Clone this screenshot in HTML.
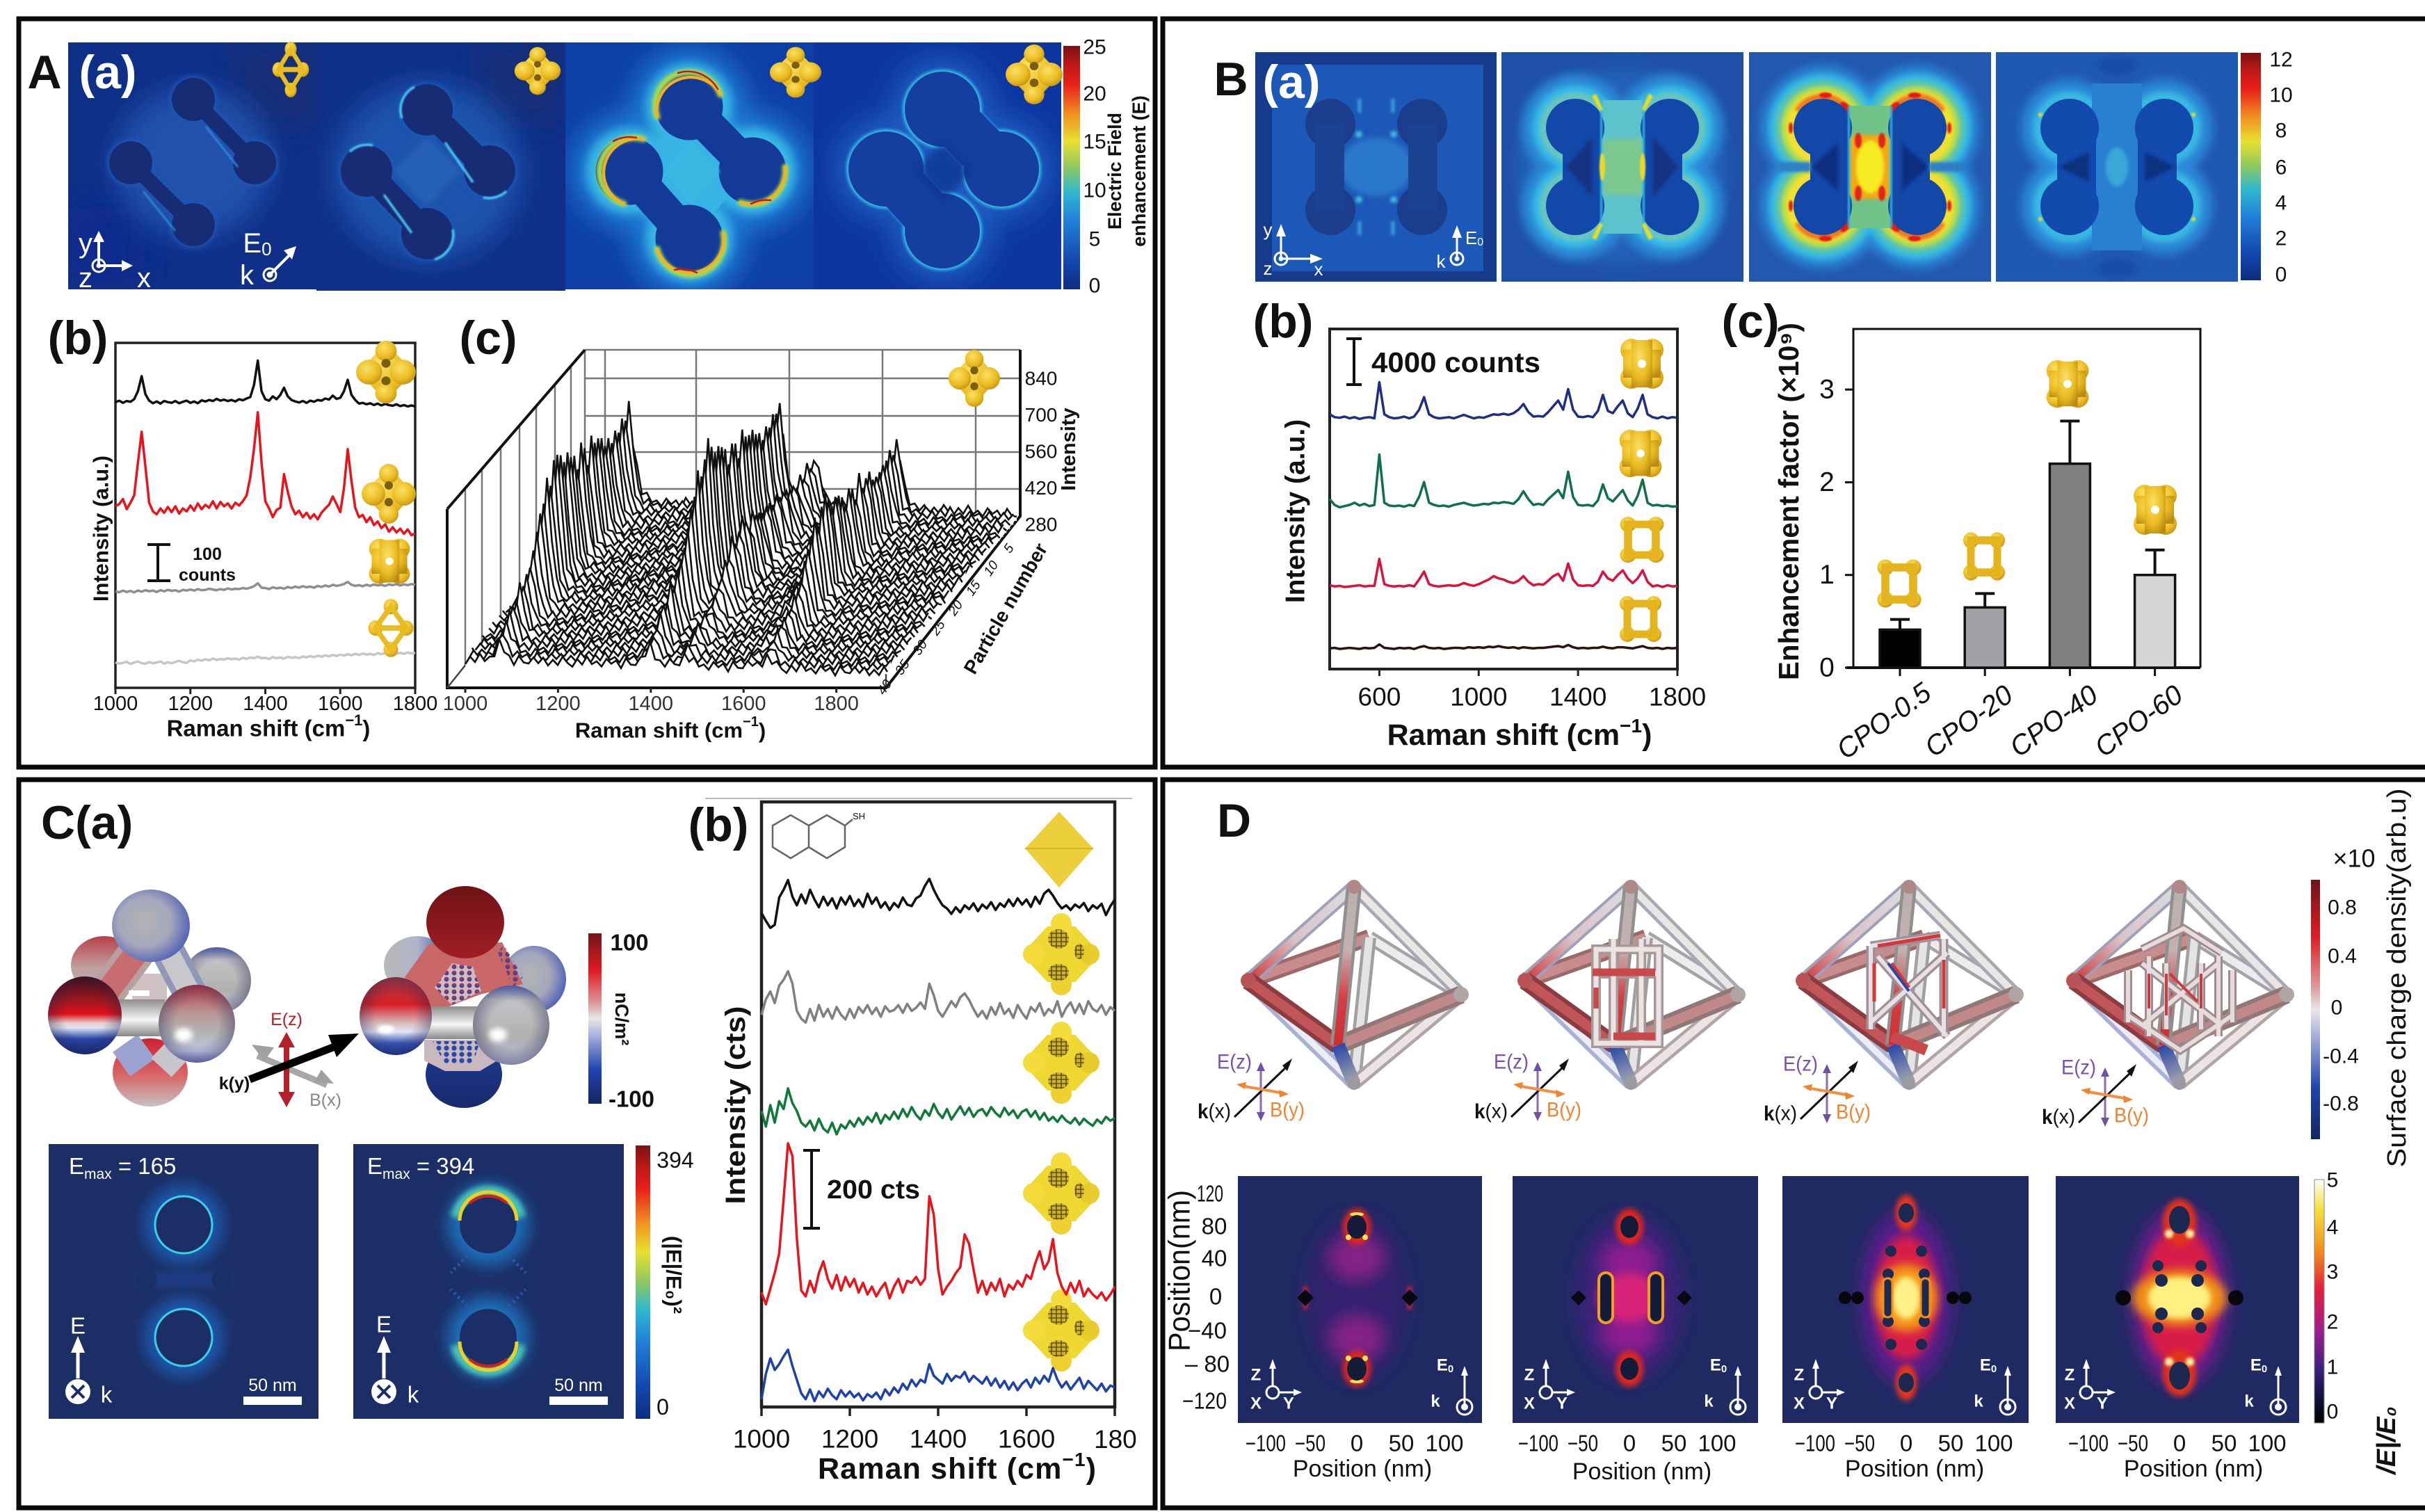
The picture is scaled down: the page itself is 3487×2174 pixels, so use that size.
<!DOCTYPE html>
<html lang="en">
<head>
<meta charset="utf-8">
<title>Raman and field enhancement of plasmonic nanoframes</title>
<style>
html,body{margin:0;padding:0;background:#fff;}
svg{display:block;}
text{font-family:"Liberation Sans",sans-serif;fill:#111;}
.c{text-anchor:middle;dominant-baseline:central;}
.big{font-size:68px;}
.lab{font-size:68px;font-weight:bold;}
.tick{font-size:30px;}
.title{font-size:34px;}
.b{font-weight:bold;}
.w{fill:#fff;}
</style>
</head>
<body>
<svg id="figure" xmlns="http://www.w3.org/2000/svg" width="3487" height="2174" viewBox="0 0 3487 2174">
<defs>
<filter id="b1" x="-50%" y="-50%" width="200%" height="200%"><feGaussianBlur stdDeviation="1"/></filter>
<filter id="b2" x="-50%" y="-50%" width="200%" height="200%"><feGaussianBlur stdDeviation="2"/></filter>
<filter id="b4" x="-50%" y="-50%" width="200%" height="200%"><feGaussianBlur stdDeviation="4"/></filter>
<filter id="b7" x="-50%" y="-50%" width="200%" height="200%"><feGaussianBlur stdDeviation="7"/></filter>
<filter id="b12" x="-50%" y="-50%" width="200%" height="200%"><feGaussianBlur stdDeviation="12"/></filter>
<filter id="b20" x="-50%" y="-50%" width="200%" height="200%"><feGaussianBlur stdDeviation="20"/></filter>
<linearGradient id="jet" x1="0" y1="0" x2="0" y2="1">
<stop offset="0" stop-color="#7a1212"/><stop offset=".08" stop-color="#c01818"/><stop offset=".16" stop-color="#ea2018"/><stop offset=".28" stop-color="#f09020"/><stop offset=".39" stop-color="#e8e030"/><stop offset=".5" stop-color="#8cc860"/><stop offset=".6" stop-color="#30b8d0"/><stop offset=".72" stop-color="#2080d8"/><stop offset=".88" stop-color="#1448b0"/><stop offset="1" stop-color="#0e2c80"/>
</linearGradient>
<linearGradient id="chg" x1="0" y1="0" x2="0" y2="1">
<stop offset="0" stop-color="#6f1418"/><stop offset=".22" stop-color="#e01c24"/><stop offset=".42" stop-color="#dba0a0"/><stop offset=".5" stop-color="#e8e8e8"/><stop offset=".6" stop-color="#a8b0dc"/><stop offset=".8" stop-color="#2044b0"/><stop offset="1" stop-color="#14245f"/>
</linearGradient>
<linearGradient id="hot" x1="0" y1="0" x2="0" y2="1">
<stop offset="0" stop-color="#ffffff"/><stop offset=".12" stop-color="#f5e040"/><stop offset=".3" stop-color="#f28a18"/><stop offset=".45" stop-color="#e0203a"/><stop offset=".62" stop-color="#a01d90"/><stop offset=".78" stop-color="#3a2080"/><stop offset=".9" stop-color="#10103a"/><stop offset="1" stop-color="#000"/>
</linearGradient>
<radialGradient id="gold" cx=".4" cy=".35" r=".75">
<stop offset="0" stop-color="#fbe064"/><stop offset=".6" stop-color="#eabb22"/><stop offset="1" stop-color="#b88a10"/>
</radialGradient>
<radialGradient id="shade" cx=".5" cy=".5" r=".5"><stop offset=".55" stop-color="#202050" stop-opacity="0"/><stop offset="1" stop-color="#202050" stop-opacity=".38"/></radialGradient>
<radialGradient id="sph1" cx=".42" cy=".45" r=".62"><stop offset="0" stop-color="#b4b4b4"/><stop offset=".55" stop-color="#a4a6bc"/><stop offset="1" stop-color="#4a5cb4"/></radialGradient>
<linearGradient id="sph2" x1="0" y1="0" x2="0" y2="1"><stop offset="0" stop-color="#4c0c10"/><stop offset=".32" stop-color="#a01820"/><stop offset=".48" stop-color="#e01018"/><stop offset=".6" stop-color="#e8d0d0"/><stop offset=".66" stop-color="#dfe2f2"/><stop offset=".8" stop-color="#2a48ac"/><stop offset="1" stop-color="#1a2c7c"/></linearGradient>
<linearGradient id="sph2b" x1="0" y1="0" x2="0" y2="1"><stop offset="0" stop-color="#b03a40"/><stop offset=".35" stop-color="#d82028"/><stop offset=".6" stop-color="#d8c0c0"/><stop offset=".7" stop-color="#e4e6f4"/><stop offset=".85" stop-color="#3a58b8"/><stop offset="1" stop-color="#24389a"/></linearGradient>
<linearGradient id="sph3" x1="0" y1="0" x2="0" y2="1"><stop offset="0" stop-color="#c03c44"/><stop offset=".35" stop-color="#b89494"/><stop offset=".62" stop-color="#b4b4b4"/><stop offset=".85" stop-color="#c0c4e0"/><stop offset="1" stop-color="#7a88c8"/></linearGradient>
<linearGradient id="sph4" x1="0" y1="0" x2="0" y2="1"><stop offset="0" stop-color="#d02030"/><stop offset=".55" stop-color="#d86868"/><stop offset="1" stop-color="#c8c0c0"/></linearGradient>
<linearGradient id="sph5" x1="0" y1="0" x2="0" y2="1"><stop offset="0" stop-color="#6e1216"/><stop offset="1" stop-color="#a01e22"/></linearGradient>
<linearGradient id="sph6" x1="0" y1="0" x2="0" y2="1"><stop offset="0" stop-color="#1c3a94"/><stop offset="1" stop-color="#1a2a6c"/></linearGradient>
<linearGradient id="sph7" x1="0" y1="0" x2="0" y2="1"><stop offset="0" stop-color="#6a7cc8"/><stop offset=".18" stop-color="#c4c4c8"/><stop offset=".65" stop-color="#b0b0b0"/><stop offset="1" stop-color="#bcc0da"/></linearGradient>
<linearGradient id="sph8" x1="0" y1="0" x2="0" y2="1"><stop offset="0" stop-color="#b84048"/><stop offset=".55" stop-color="#c0a0a0"/><stop offset="1" stop-color="#b8b8b8"/></linearGradient>
<linearGradient id="sph9" x1="1" y1="0" x2="0" y2="0"><stop offset="0" stop-color="#3050b0"/><stop offset=".5" stop-color="#b0b4c8"/><stop offset="1" stop-color="#b8b8b8"/></linearGradient>
<linearGradient id="tube" x1="0" y1="0" x2="0" y2="1"><stop offset="0" stop-color="#8c8c8c"/><stop offset=".55" stop-color="#f6f6f6"/><stop offset="1" stop-color="#888"/></linearGradient>
<linearGradient id="tf" gradientUnits="userSpaceOnUse" x1="1947" y1="1275" x2="1924" y2="1503"><stop offset="0" stop-color="#b8b0b0"/><stop offset=".4" stop-color="#c4b0b0"/><stop offset=".7" stop-color="#d04046"/><stop offset="1" stop-color="#cf2e30"/></linearGradient>
<linearGradient id="tl" gradientUnits="userSpaceOnUse" x1="1947" y1="1275" x2="1795" y2="1410"><stop offset="0" stop-color="#dcdce0"/><stop offset=".55" stop-color="#d8c4c8"/><stop offset="1" stop-color="#cc3a40"/></linearGradient>
<linearGradient id="bf" gradientUnits="userSpaceOnUse" x1="1947" y1="1558" x2="1924" y2="1503"><stop offset="0" stop-color="#a8a8ac"/><stop offset="1" stop-color="#2a48a8"/></linearGradient>
<pattern id="dots" width="11" height="9" patternUnits="userSpaceOnUse"><circle cx="4" cy="4" r="3.4" fill="#2a48a8"/><circle cx="4" cy="3" r="1.8" fill="#d02a30"/></pattern>
<pattern id="dots2" width="11" height="9" patternUnits="userSpaceOnUse"><circle cx="4" cy="4" r="3.6" fill="#2a48a8"/></pattern>
<pattern id="holes" width="7" height="6" patternUnits="userSpaceOnUse"><path d="M0 0h7v6H0z" fill="#cfb026" stroke="#4a4214" stroke-width="1.3"/></pattern>

<g id="icon-solid">
<path d="M0-40L36 0L0 40L-36 0Z" fill="url(#gold)"/>
<circle cx="0" cy="-29" r="14" fill="url(#gold)"/><circle cx="0" cy="29" r="14" fill="url(#gold)"/><circle cx="-22" cy="0" r="17" fill="url(#gold)"/><circle cx="22" cy="0" r="17" fill="url(#gold)"/>
<ellipse cx="0" cy="-12" rx="6" ry="6" fill="#7c5e10"/><ellipse cx="0" cy="12" rx="6" ry="6" fill="#7c5e10"/>
</g>
<g id="icon-open">
<circle cx="0" cy="-28" r="10" fill="url(#gold)"/><circle cx="0" cy="28" r="10" fill="url(#gold)"/><circle cx="-21" cy="0" r="10" fill="url(#gold)"/><circle cx="21" cy="0" r="10" fill="url(#gold)"/><path d="M0-28L-21 0L0 28L21 0Z M-21 0H21" fill="none" stroke="#e8bd24" stroke-width="7"/>
</g>
<g id="icon-cross">
<circle cx="-15" cy="-20" r="16" fill="url(#gold)"/><circle cx="15" cy="-20" r="16" fill="url(#gold)"/><circle cx="-15" cy="20" r="16" fill="url(#gold)"/><circle cx="15" cy="20" r="16" fill="url(#gold)"/><rect x="-27" y="-20" width="54" height="40" fill="url(#gold)"/><rect x="-15" y="-34" width="30" height="68" fill="url(#gold)"/><circle cx="0" cy="0" r="6" fill="#fff"/>
</g>
<g id="icon-frame">
<circle cx="-19" cy="-22" r="11" fill="url(#gold)"/><circle cx="19" cy="-22" r="11" fill="url(#gold)"/><circle cx="-19" cy="22" r="11" fill="url(#gold)"/><circle cx="19" cy="22" r="11" fill="url(#gold)"/><rect x="-19" y="-22" width="38" height="44" fill="none" stroke="#e4b41e" stroke-width="11"/>
</g>
<g id="icon-yellow">
<path d="M0-56L52 0L0 56L-52 0Z" fill="#f0d832"/><path d="M-20-40H20L46-12V12L20 40H-20L-46 12V-12Z" fill="#f0d832"/><circle cx="0" cy="-44" r="15" fill="#f3dc3c"/><circle cx="0" cy="44" r="15" fill="#eed030"/><circle cx="-40" cy="0" r="15" fill="#f3dc3c"/><circle cx="40" cy="0" r="15" fill="#e8cc2c"/>
<ellipse cx="-4" cy="-22" rx="15" ry="14" fill="url(#holes)"/><ellipse cx="-4" cy="26" rx="15" ry="12" fill="url(#holes)"/><ellipse cx="26" cy="-4" rx="7" ry="11" fill="url(#holes)"/>
</g>

<g id="a1s"><circle cx="278" cy="143" r="31"/><circle cx="366" cy="234" r="31"/><circle cx="188" cy="234" r="31"/><circle cx="278" cy="323" r="31"/><line x1="278" y1="143" x2="366" y2="234" stroke="currentColor" stroke-width="22"/><line x1="188" y1="234" x2="278" y2="323" stroke="currentColor" stroke-width="22"/></g>
<g id="a2s"><circle cx="614" cy="158" r="37"/><circle cx="704" cy="246" r="37"/><circle cx="527" cy="246" r="37"/><circle cx="614" cy="336" r="37"/><line x1="614" y1="158" x2="704" y2="246" stroke="currentColor" stroke-width="36"/><line x1="527" y1="246" x2="614" y2="336" stroke="currentColor" stroke-width="36"/></g>
<g id="a3s"><circle cx="991" cy="153" r="48"/><circle cx="1082" cy="246" r="48"/><circle cx="905" cy="246" r="48"/><circle cx="991" cy="343" r="48"/><line x1="991" y1="153" x2="1082" y2="246" stroke="currentColor" stroke-width="50"/><line x1="905" y1="246" x2="991" y2="343" stroke="currentColor" stroke-width="50"/></g>
<g id="a4s"><circle cx="1355" cy="157" r="54"/><circle cx="1440" cy="243" r="54"/><circle cx="1274" cy="243" r="54"/><circle cx="1355" cy="332" r="54"/><line x1="1355" y1="157" x2="1440" y2="243" stroke="currentColor" stroke-width="72"/><line x1="1274" y1="243" x2="1355" y2="332" stroke="currentColor" stroke-width="72"/></g>

<g id="bs"><circle cx="-68" cy="-56" r="42"/><circle cx="-68" cy="56" r="42"/><circle cx="68" cy="-56" r="42"/><circle cx="68" cy="56" r="42"/><line x1="-58" y1="-56" x2="-58" y2="56" stroke="currentColor" stroke-width="56"/><line x1="58" y1="-56" x2="58" y2="56" stroke="currentColor" stroke-width="56"/></g>

<g id="octa">
<line x1="1795" y1="1410" x2="1969" y2="1348" stroke="#9a6a6a" stroke-width="24"/><line x1="1795" y1="1410" x2="1969" y2="1348" stroke="#c88c8c" stroke-width="14"/>
<line x1="2101" y1="1430" x2="1969" y2="1348" stroke="#a4a4a8" stroke-width="20"/><line x1="2101" y1="1430" x2="1969" y2="1348" stroke="#ececec" stroke-width="11"/>
<line x1="1969" y1="1348" x2="1947" y2="1558" stroke="#a0a0a0" stroke-width="20"/><line x1="1969" y1="1348" x2="1947" y2="1558" stroke="#e4e4e4" stroke-width="11"/>
<line x1="1795" y1="1410" x2="1947" y2="1558" stroke="#a8b0d4" stroke-width="20"/><line x1="1795" y1="1410" x2="1947" y2="1558" stroke="#ececf4" stroke-width="9"/>
<line x1="2101" y1="1430" x2="1947" y2="1558" stroke="#b0a4a4" stroke-width="20"/><line x1="2101" y1="1430" x2="1947" y2="1558" stroke="#ece4e4" stroke-width="11"/>
<line x1="1947" y1="1275" x2="1795" y2="1410" stroke="#a0a0b8" stroke-width="20"/><line x1="1947" y1="1275" x2="1795" y2="1410" stroke="url(#tl)" stroke-width="12"/>
<line x1="1947" y1="1275" x2="2101" y2="1430" stroke="#a8a8b4" stroke-width="19"/><line x1="1947" y1="1275" x2="2101" y2="1430" stroke="#eae6e6" stroke-width="10"/>
<line x1="1795" y1="1410" x2="1924" y2="1503" stroke="#8c3c40" stroke-width="26"/><line x1="1795" y1="1410" x2="1924" y2="1503" stroke="#c0565a" stroke-width="14"/>
<line x1="2101" y1="1430" x2="1924" y2="1503" stroke="#907878" stroke-width="26"/><line x1="2101" y1="1430" x2="1924" y2="1503" stroke="#c08888" stroke-width="14"/>
<line x1="1947" y1="1275" x2="1924" y2="1503" stroke="#909090" stroke-width="22"/><line x1="1947" y1="1275" x2="1924" y2="1503" stroke="url(#tf)" stroke-width="13"/>
<line x1="1924" y1="1503" x2="1947" y2="1558" stroke="url(#bf)" stroke-width="20"/>
<circle cx="1795" cy="1410" r="11" fill="#b85458"/><circle cx="2101" cy="1430" r="11" fill="#b0a4a4"/><circle cx="1947" cy="1275" r="10" fill="#b08888"/><circle cx="1947" cy="1558" r="9" fill="#9a9aa0"/>
</g>

<g id="emleg">
<line x1="1813" y1="1536" x2="1813" y2="1603" stroke="#8a6ab0" stroke-width="3"/><path d="M1807 1540L1813 1527L1819 1540Z M1807 1599L1813 1612L1819 1599Z" fill="#7050a0"/>
<line x1="1775" y1="1606" x2="1854" y2="1530" stroke="#111" stroke-width="3"/><path d="M1858 1522L1851 1540L1844 1532Z" fill="#111"/>
<line x1="1784" y1="1561" x2="1846" y2="1572" stroke="#f09040" stroke-width="4"/><path d="M1778 1559L1792 1556L1790 1566Z M1853 1573L1839 1567L1840 1578Z" fill="#ee8430"/>
<text class="c" x="1775" y="1527" font-size="30" style="fill:#7a50a8" textLength="50" lengthAdjust="spacingAndGlyphs">E(z)</text>
<text class="c" x="1746" y="1598" font-size="30" textLength="48" lengthAdjust="spacingAndGlyphs"><tspan font-weight="bold">k</tspan>(x)</text>
<text class="c" x="1851" y="1596" font-size="30" style="fill:#ee8430" textLength="50" lengthAdjust="spacingAndGlyphs">B(y)</text>
</g>
</defs>

<rect x="0" y="0" width="3487" height="2174" fill="#fff"/>

<!-- panel frames -->
<g fill="none" stroke="#0a0a0a" stroke-width="7">
<rect x="27" y="27" width="1634" height="1076"/>
<rect x="1672" y="27" width="1820" height="1076"/>
<rect x="27" y="1121" width="1634" height="1047"/>
<rect x="1672" y="1121" width="1820" height="1047"/>
</g>

<!-- A(a) field maps -->
<g>
<svg x="98" y="61" width="357" height="355" viewBox="98 61 357 355">
<rect x="98" y="61" width="357" height="355" fill="#0f2f88"/>
<rect x="340" y="61" width="115" height="120" fill="#182d78" filter="url(#b20)"/>
<rect x="98" y="300" width="110" height="116" fill="#0d2c8c" filter="url(#b20)"/>
<ellipse cx="277" cy="234" rx="112" ry="108" fill="#2052ac" opacity=".95" filter="url(#b20)"/>
<use href="#a1s" fill="#1a56b8" color="#1a56b8" stroke="#1a56b8" stroke-width="5" filter="url(#b4)"/>
<use href="#a1s" fill="#172c74" color="#172c74"/>
<g stroke="#2f8ee0" stroke-width="2.5" fill="none" filter="url(#b1)"><path d="M296 182L342 240"/><path d="M206 275L252 332"/></g>
</svg>
<svg x="455" y="61" width="358" height="357" viewBox="455 61 358 357">
<rect x="455" y="61" width="358" height="357" fill="#0f2f88"/>
<rect x="690" y="61" width="123" height="110" fill="#182d78" filter="url(#b20)"/>
<ellipse cx="615" cy="247" rx="135" ry="128" fill="#1f52ac" filter="url(#b20)"/>
<path d="M565 246L614 196L664 246L614 298Z" fill="#2860b4" filter="url(#b4)"/>
<use href="#a2s" fill="#1a56b8" color="#1a56b8" stroke="#1a56b8" stroke-width="5" filter="url(#b4)"/>
<use href="#a2s" fill="#172c74" color="#172c74"/>
<g fill="none" stroke="#48c8f4" stroke-width="3.5" filter="url(#b1)"><path d="M578 170A37 37 0 0 1 596 125"/><path d="M503 218A37 37 0 0 1 536 209"/><path d="M728 275A37 37 0 0 1 695 284"/><path d="M651 330A37 37 0 0 1 625 373"/><path d="M640 205L680 262"/><path d="M552 280L592 335"/></g>
</svg>
<svg x="813" y="61" width="357" height="355" viewBox="813 61 357 355">
<rect x="813" y="61" width="357" height="355" fill="#0e3ea8"/>
<use href="#a3s" fill="#1f7ad4" color="#1f7ad4" stroke="#1f7ad4" stroke-width="70" filter="url(#b20)"/>
<use href="#a3s" fill="#38b8e4" color="#38b8e4" stroke="#38b8e4" stroke-width="28" filter="url(#b7)"/>
<path d="M905 246L991 153L1082 246L991 343Z" fill="#38b4e4"/>
<use href="#a3s" fill="#143a98" color="#143a98" stroke="#143a98" stroke-width="1"/>
<path d="M955 246L993 205L1036 246L993 292Z" fill="#3ab8e2" filter="url(#b2)"/>
<g fill="none" stroke-linecap="round">
<g stroke="#a8d850" stroke-width="9" filter="url(#b2)"><path d="M945 168A48 48 0 0 1 1036 136"/><path d="M925 200A48 48 0 0 0 897 293"/><path d="M1040 335A48 48 0 0 1 945 358"/><path d="M1065 291A48 48 0 0 0 1129 240"/></g>
<g stroke="#f4b020" stroke-width="4"><path d="M945 168A49 49 0 0 1 1036 136"/><path d="M925 200A49 49 0 0 0 897 293"/><path d="M1040 335A49 49 0 0 1 945 358"/><path d="M1065 291A49 49 0 0 0 1129 240"/></g>
<g stroke="#c01a18" stroke-width="2.5"><path d="M975 105A49 49 0 0 1 1032 128"/><path d="M882 203A49 49 0 0 1 915 198"/><path d="M970 388A49 49 0 0 1 1002 392"/><path d="M1080 293A49 49 0 0 1 1108 288"/></g>
</g>
</svg>
<svg x="1170" y="61" width="356" height="355" viewBox="1170 61 356 355">
<rect x="1170" y="61" width="356" height="355" fill="#0d35a0"/>
<use href="#a4s" fill="#1a5cc0" color="#1a5cc0" stroke="#1a5cc0" stroke-width="40" filter="url(#b20)"/>
<use href="#a4s" fill="#38c0ea" color="#38c0ea" stroke="#38c0ea" stroke-width="6" filter="url(#b2)"/>
<use href="#a4s" fill="#143ea0" color="#143ea0"/>
<rect x="1326" y="216" width="60" height="60" transform="rotate(45 1356 246)" fill="#103490" opacity=".7" filter="url(#b4)"/>
</svg>
</g>

<text class="c big b" x="64" y="104">A</text>
<text class="c lab w" x="155" y="104">(a)</text>
<g fill="#fff" stroke="#fff">
<line x1="142" y1="382" x2="142" y2="344" stroke-width="4"/><path d="M134 348L142 332L150 348Z" stroke="none"/>
<line x1="142" y1="382" x2="178" y2="382" stroke-width="4"/><path d="M175 374L191 382L175 390Z" stroke="none"/>
<circle cx="142" cy="382" r="9" fill="none" stroke-width="3"/><circle cx="142" cy="382" r="3"/>
<circle cx="388" cy="395" r="9" fill="none" stroke-width="3"/><circle cx="388" cy="395" r="4"/>
<line x1="388" y1="395" x2="418" y2="365" stroke-width="4"/><path d="M426 354L420 373L408 360Z" stroke="none"/>
</g>
<text class="c w" x="123" y="350" font-size="40">y</text>
<text class="c w" x="123" y="400" font-size="40">z</text>
<text class="c w" x="207" y="400" font-size="40">x</text>
<text class="c w" x="370" y="350" font-size="40">E<tspan font-size="26" dy="8">0</tspan></text>
<text class="c w" x="355" y="396" font-size="40">k</text>
<use href="#icon-open" transform="translate(418 100) scale(.85 1.05)"/>
<use href="#icon-solid" transform="translate(773 102) scale(.85 .8)"/>
<use href="#icon-solid" transform="translate(1144 104) scale(.95 .85)"/>
<use href="#icon-solid" transform="translate(1487 107) scale(1.05 1)"/>

<rect x="1529" y="66" width="24" height="350" fill="url(#jet)"/>
<g>
<text class="c tick" x="1574" y="68">25</text>
<text class="c tick" x="1574" y="135">20</text>
<text class="c tick" x="1574" y="204">15</text>
<text class="c tick" x="1574" y="274">10</text>
<text class="c tick" x="1574" y="344">5</text>
<text class="c tick" x="1574" y="411">0</text>
</g>
<text class="c b" font-size="27" transform="translate(1603 246) rotate(-90)">Electric Field</text>
<text class="c b" font-size="27" transform="translate(1638 246) rotate(-90)">enhancement (E)</text>

<!-- A(b) -->
<text class="c lab" x="112" y="486">(b)</text>
<rect x="166" y="493" width="431" height="496" fill="none" stroke="#222" stroke-width="3.5"/>
<g id="abChart"></g>
<text class="c b" font-size="31" transform="translate(145 760) rotate(-90)" fill="#222">Intensity (a.u.)</text>
<text class="c b" x="386" y="1047" font-size="33">Raman shift (cm<tspan font-size="22" dy="-12">−1</tspan><tspan dy="12">)</tspan></text>
<g stroke="#111" stroke-width="4"><line x1="227" y1="783" x2="227" y2="835"/><line x1="212" y1="783" x2="245" y2="783"/><line x1="212" y1="835" x2="245" y2="835"/></g>
<text class="c b" x="298" y="797" font-size="25">100</text>
<text class="c b" x="298" y="827" font-size="25">counts</text>
<use href="#icon-solid" transform="translate(555 535) scale(1.1 1.05)"/>
<use href="#icon-solid" transform="translate(559 710) scale(1 1)"/>
<use href="#icon-cross" transform="translate(560 807) scale(.95 .9)"/>
<use href="#icon-open" transform="translate(562 903) scale(1.05 1.1)"/>

<!-- A(c) waterfall -->
<text class="c lab" x="702" y="486">(c)</text>
<g stroke="#777" stroke-width="2.5" fill="none">
<path d="M841 503H1467M841 544H1467M841 598H1467M841 650H1467M841 703H1467M870 503V742M1001 503V742M1135 503V742M1269 503V742M1403 503V742M669 702V957M693 674V927M720 643V893M747 612V859M771 584V829M798 553V796M821 526V767M841 503V742"/>
<path d="M643 732L841 503M643 732V989H1274L1467 742V503" stroke="#111" stroke-width="4"/>
<path d="M643 989L841 742M1274 989V960" stroke="#444"/>
</g>
<g id="acChart"></g>
<text class="c b" x="964" y="1050" font-size="31" fill="#333">Raman shift (cm<tspan font-size="20" dy="-12">−1</tspan><tspan dy="12">)</tspan></text>
<text class="c b" font-size="29" transform="translate(1537 646) rotate(-90)">Intensity</text>
<text class="c b" font-size="28" transform="translate(1446 875) rotate(-60)">Particle number</text>
<use href="#icon-solid" transform="translate(1401 544) scale(.95 .95)"/>

<!-- B(a) field maps -->
<g>
<svg x="1805" y="75" width="347" height="330" viewBox="-174 -165 347 330">
<rect x="-174" y="-165" width="347" height="330" fill="#163a8c"/>
<rect x="-150" y="-147" width="304" height="297" fill="#1c58b8"/>
<ellipse cx="0" cy="0" rx="52" ry="42" fill="#2a78cc" filter="url(#b4)"/>
<circle cx="-66" cy="-62" r="36" fill="#1b3d8c"/><circle cx="-66" cy="62" r="36" fill="#1b3d8c"/><circle cx="66" cy="-62" r="36" fill="#1b3d8c"/><circle cx="66" cy="62" r="36" fill="#1b3d8c"/>
<rect x="-88" y="-62" width="42" height="124" fill="#1c4292"/><rect x="46" y="-62" width="42" height="124" fill="#1c4292"/>
<g fill="#48c8e8" filter="url(#b2)" opacity=".85"><circle cx="-25" cy="-47" r="5"/><circle cx="25" cy="-47" r="5"/><circle cx="-25" cy="47" r="5"/><circle cx="25" cy="47" r="5"/><rect x="-26" y="-98" width="4" height="20"/><rect x="22" y="-98" width="4" height="20"/><rect x="-26" y="78" width="4" height="20"/><rect x="22" y="78" width="4" height="20"/></g>
</svg>
<svg x="2159" y="75" width="348" height="330" viewBox="-174 -165 348 330">
<rect x="-174" y="-165" width="348" height="330" fill="#1f50a8"/>
<ellipse rx="150" ry="140" fill="#2260b8" filter="url(#b12)"/>
<use href="#bs" fill="#2a8cd8" color="#2a8cd8" stroke="#2a8cd8" stroke-width="70" filter="url(#b7)"/>
<use href="#bs" fill="#38bce4" color="#38bce4" stroke="#38bce4" stroke-width="38" filter="url(#b4)"/>
<use href="#bs" fill="#68c4c0" color="#68c4c0" stroke="#68c4c0" stroke-width="18" filter="url(#b2)"/>
<rect x="-34" y="-96" width="68" height="192" fill="#5cc2cc"/>
<rect x="-30" y="-40" width="60" height="80" fill="#7cc890" filter="url(#b4)"/>
<use href="#bs" fill="#1248a8" color="#1248a8"/>
<rect x="-32" y="-100" width="3" height="200" fill="#30b0e0" filter="url(#b1)"/><rect x="29" y="-100" width="3" height="200" fill="#30b0e0" filter="url(#b1)"/>
<path d="M-80 0L-44 -42V42Z M80 0L44 -42V42Z" fill="#143080" filter="url(#b2)"/>
<g fill="#e8dc28" filter="url(#b1)"><ellipse cx="-29" cy="0" rx="4" ry="20"/><ellipse cx="29" cy="0" rx="4" ry="20"/><path d="M-44-102l6-3l10 22l-4 3zM44-102l-6-3l-10 22l4 3zM-44 102l6 3l10-22l-4-3zM44 102l-6 3l-10-22l4-3z"/></g>
</svg>
<svg x="2515" y="75" width="348" height="330" viewBox="-174 -165 348 330">
<rect x="-174" y="-165" width="348" height="330" fill="#2258b0"/>
<use href="#bs" fill="#2a84d4" color="#2a84d4" stroke="#2a84d4" stroke-width="96" filter="url(#b7)"/>
<use href="#bs" fill="#30b8e4" color="#30b8e4" stroke="#30b8e4" stroke-width="72" filter="url(#b4)"/>
<use href="#bs" fill="#68c8a0" color="#68c8a0" stroke="#68c8a0" stroke-width="52" filter="url(#b4)"/>
<use href="#bs" fill="#b4dc50" color="#b4dc50" stroke="#b4dc50" stroke-width="36" filter="url(#b2)"/>
<use href="#bs" fill="#f0e030" color="#f0e030" stroke="#f0e030" stroke-width="22" filter="url(#b2)"/>
<g fill="none" stroke="#f07820" stroke-width="10" filter="url(#b2)"><path d="M-32-80A42 42 0 0 0-104-80"/><path d="M32-80A42 42 0 0 1 104-80"/><path d="M-32 80A42 42 0 0 1-104 80"/><path d="M32 80A42 42 0 0 0 104 80"/></g>
<g fill="#e01c18" filter="url(#b1)"><ellipse cx="-34" cy="-82" rx="7" ry="13" transform="rotate(-35 -34 -82)"/><ellipse cx="34" cy="-82" rx="7" ry="13" transform="rotate(35 34 -82)"/><ellipse cx="-34" cy="82" rx="7" ry="13" transform="rotate(35 -34 82)"/><ellipse cx="34" cy="82" rx="7" ry="13" transform="rotate(-35 34 82)"/><ellipse cx="-64" cy="-103" rx="9" ry="4"/><ellipse cx="64" cy="-103" rx="9" ry="4"/><ellipse cx="-64" cy="103" rx="9" ry="4"/><ellipse cx="64" cy="103" rx="9" ry="4"/><ellipse cx="-114" cy="-56" rx="3" ry="8"/><ellipse cx="114" cy="-56" rx="3" ry="8"/><ellipse cx="-114" cy="56" rx="3" ry="8"/><ellipse cx="114" cy="56" rx="3" ry="8"/></g>
<rect x="-30" y="-88" width="60" height="176" fill="#70c488"/>
<rect x="-28" y="-46" width="56" height="92" rx="8" fill="#f4a818" filter="url(#b2)"/>
<ellipse rx="20" ry="38" fill="#f6ec20" filter="url(#b2)"/>
<g fill="#e02818" filter="url(#b1)"><ellipse cx="-17" cy="-38" rx="5" ry="11"/><ellipse cx="17" cy="-38" rx="5" ry="11"/><ellipse cx="-17" cy="38" rx="5" ry="11"/><ellipse cx="17" cy="38" rx="5" ry="11"/></g>
<use href="#bs" fill="#1448a8" color="#1448a8"/>
<path d="M-84 0L-46 -34V34Z M84 0L46 -34V34Z" fill="#102f80" filter="url(#b2)"/>
<rect x="-133" y="-7" width="48" height="14" fill="#2f7ec8" filter="url(#b2)"/><rect x="85" y="-7" width="48" height="14" fill="#2f7ec8" filter="url(#b2)"/>
<rect x="-32" y="-88" width="3" height="176" fill="#30b0e0" filter="url(#b1)"/><rect x="29" y="-88" width="3" height="176" fill="#30b0e0" filter="url(#b1)"/>
</svg>
<svg x="2870" y="75" width="348" height="330" viewBox="-174 -165 348 330">
<rect x="-174" y="-165" width="348" height="330" fill="#1f58b0"/>
<use href="#bs" fill="#2a88d8" color="#2a88d8" stroke="#2a88d8" stroke-width="56" filter="url(#b7)"/>
<use href="#bs" fill="#38b8e4" color="#38b8e4" stroke="#38b8e4" stroke-width="22" filter="url(#b4)"/>
<rect x="-36" y="-120" width="72" height="240" fill="#2a80d0"/>
<ellipse cx="0" cy="-145" rx="28" ry="12" fill="#154cac" filter="url(#b4)"/><ellipse cx="0" cy="145" rx="28" ry="12" fill="#154cac" filter="url(#b4)"/>
<use href="#bs" fill="#124aae" color="#124aae"/>
<path d="M-84 0L-40 -22V22Z M84 0L40 -22V22Z" fill="#103080" filter="url(#b2)"/>
<ellipse cx="0" cy="0" rx="16" ry="28" fill="#3aa6d8" filter="url(#b2)"/>
<g fill="#dcdc30" filter="url(#b1)"><circle cx="-110" cy="-75" r="3"/><circle cx="110" cy="-75" r="3"/><circle cx="-110" cy="75" r="3"/><circle cx="110" cy="75" r="3"/></g>
</svg>
</g>
<text class="c big b" x="1770" y="114">B</text>
<text class="c lab w" x="1857" y="118">(a)</text>
<g fill="#fff" stroke="#fff">
<line x1="1842" y1="340" x2="1842" y2="372" stroke-width="3"/><path d="M1835 340h14l-7-18z" stroke="none"/><line x1="1842" y1="372" x2="1888" y2="372" stroke-width="3"/><path d="M1884 365l18 7l-18 7z" stroke="none"/><circle cx="1842" cy="372" r="9" fill="none" stroke-width="3"/><circle cx="1842" cy="372" r="3"/>
<line x1="2095" y1="342" x2="2095" y2="372" stroke-width="3"/><path d="M2088 342h14l-7-18z" stroke="none"/><circle cx="2095" cy="372" r="9" fill="none" stroke-width="3"/><circle cx="2095" cy="372" r="3"/>
</g>
<text class="c w" x="1823" y="330" font-size="26">y</text>
<text class="c w" x="1823" y="386" font-size="26">z</text>
<text class="c w" x="1896" y="387" font-size="26">x</text>
<text class="c w" x="2120" y="342" font-size="26">E<tspan font-size="16" dy="6">0</tspan></text>
<text class="c w" x="2072" y="376" font-size="26">k</text>
<rect x="3222" y="76" width="29" height="327" fill="url(#jet)"/>
<g>
<text class="c tick" x="3280" y="86">12</text>
<text class="c tick" x="3280" y="137">10</text>
<text class="c tick" x="3280" y="188">8</text>
<text class="c tick" x="3280" y="241">6</text>
<text class="c tick" x="3280" y="292">4</text>
<text class="c tick" x="3280" y="343">2</text>
<text class="c tick" x="3280" y="395">0</text>
</g>

<!-- B(b) -->
<text class="c lab" x="1845" y="462">(b)</text>
<rect x="1912" y="473" width="500" height="489" fill="none" stroke="#222" stroke-width="4"/>
<g id="bbChart"></g>
<g stroke="#111" stroke-width="4"><line x1="1947" y1="487" x2="1947" y2="553"/><line x1="1936" y1="487" x2="1958" y2="487"/><line x1="1936" y1="553" x2="1958" y2="553"/></g>
<text x="1972" y="535" font-size="41" class="b" textLength="243" lengthAdjust="spacingAndGlyphs">4000 counts</text>
<text class="c b" font-size="39" transform="translate(1863 735) rotate(-90)">Intensity (a.u.)</text>
<text class="c b" x="2185" y="1057" font-size="43">Raman shift (cm<tspan font-size="28" dy="-14">−1</tspan><tspan dy="14">)</tspan></text>
<use href="#icon-cross" transform="translate(2361 523)"/>
<use href="#icon-cross" transform="translate(2359 652) scale(.98 .95)"/>
<use href="#icon-frame" transform="translate(2361 776) scale(1.05 1)"/>
<use href="#icon-frame" transform="translate(2359 890) scale(1 1)"/>

<!-- B(c) -->
<text class="c lab" x="2517" y="462">(c)</text>
<g id="bcChart"></g>
<text class="c b" font-size="41" transform="translate(2572 721) rotate(-90)" textLength="514" lengthAdjust="spacingAndGlyphs">Enhancement factor (×10⁹)</text>
<use href="#icon-frame" transform="translate(2731 839) scale(1.05 1.05)"/>
<use href="#icon-frame" transform="translate(2853 800) scale(1 1.05)"/>
<use href="#icon-cross" transform="translate(2973 552) scale(.98 .95)"/>
<use href="#icon-cross" transform="translate(3099 733)"/>

<!-- C(a) -->
<text x="59" y="1206" class="big b">C(a)</text>
<g id="c-cluster-left">
<ellipse cx="150" cy="1388" rx="48" ry="42" fill="url(#sph8)"/>
<ellipse cx="312" cy="1410" rx="49" ry="48" fill="url(#sph7)"/>
<ellipse cx="312" cy="1410" rx="49" ry="48" fill="url(#shade)"/>
<ellipse cx="216" cy="1542" rx="54" ry="49" fill="url(#sph4)"/>
<line x1="180" y1="1500" x2="205" y2="1535" stroke="#9aa2d0" stroke-width="44"/>
<line x1="260" y1="1505" x2="232" y2="1535" stroke="#c8c4cc" stroke-width="40"/>
<line x1="215" y1="1400" x2="215" y2="1440" stroke="#cfc0c4" stroke-width="50"/>
<line x1="200" y1="1365" x2="140" y2="1445" stroke="#b8a0a0" stroke-width="52"/><line x1="200" y1="1365" x2="140" y2="1445" stroke="#c86c70" stroke-width="34"/>
<line x1="240" y1="1365" x2="285" y2="1450" stroke="#9098b8" stroke-width="48"/><line x1="240" y1="1365" x2="285" y2="1450" stroke="#c8c8cc" stroke-width="30"/>
<ellipse cx="217" cy="1331" rx="56" ry="52" fill="url(#sph1)"/>
<rect x="165" y="1437" width="72" height="53" fill="url(#tube)"/>
<rect x="185" y="1424" width="30" height="8" fill="#fff"/>
<ellipse cx="122" cy="1460" rx="53" ry="56" fill="url(#sph2)"/>
<ellipse cx="122" cy="1460" rx="53" ry="56" fill="url(#shade)"/>
<ellipse cx="283" cy="1472" rx="55" ry="56" fill="url(#sph3)"/>
<ellipse cx="283" cy="1472" rx="55" ry="56" fill="url(#shade)"/>
<ellipse cx="264" cy="1488" rx="13" ry="10" fill="#fff" filter="url(#b4)"/>
</g>
<g id="c-cluster-right">
<ellipse cx="600" cy="1388" rx="48" ry="42" fill="url(#sph9)"/>
<ellipse cx="768" cy="1408" rx="46" ry="48" fill="url(#sph1)"/>
<ellipse cx="667" cy="1545" rx="55" ry="48" fill="url(#sph6)"/>
<path d="M582 1405L616 1358L722 1355L752 1415L690 1430L625 1455Z" fill="#c86668"/>
<path d="M625 1420L650 1385L680 1390L692 1425L650 1445Z" fill="#d8b8b8"/>
<path d="M625 1420L650 1385L680 1390L692 1425L650 1445Z" fill="url(#dots)"/>
<path d="M724 1358L752 1405L738 1420L716 1370Z" fill="url(#dots)"/>
<path d="M610 1495H695L715 1525L690 1540L640 1540L610 1525Z" fill="#c8b8c0"/><path d="M622 1497H690L680 1530H640Z" fill="url(#dots2)"/>
<ellipse cx="669" cy="1326" rx="56" ry="52" fill="url(#sph5)"/>
<rect x="605" y="1447" width="90" height="47" fill="url(#tube)"/>
<ellipse cx="569" cy="1461" rx="52" ry="56" fill="url(#sph2b)"/>
<ellipse cx="569" cy="1461" rx="52" ry="56" fill="url(#shade)"/>
<ellipse cx="735" cy="1474" rx="55" ry="57" fill="url(#sph7)"/>
<ellipse cx="735" cy="1474" rx="55" ry="57" fill="url(#shade)"/>
<ellipse cx="716" cy="1488" rx="13" ry="10" fill="#fff" filter="url(#b4)"/>
<ellipse cx="555" cy="1480" rx="12" ry="6" fill="#fff" filter="url(#b2)"/>
</g>
<g>
<line x1="370" y1="1518" x2="470" y2="1560" stroke="#a8a8a8" stroke-width="9"/><path d="M362 1502l32 4l-14 20z M480 1558l-28-2l10-18z" fill="#a0a0a0"/>
<line x1="412" y1="1500" x2="412" y2="1575" stroke="#b42028" stroke-width="8"/><path d="M400 1506h24l-12-22z M400 1570h24l-12 22z" fill="#b42028"/>
<line x1="359" y1="1552" x2="494" y2="1500" stroke="#000" stroke-width="11"/><path d="M516 1486l-32 34l-12-32z" fill="#000"/>
</g>
<text class="c" x="412" y="1466" font-size="25" style="fill:#b42028">E(z)</text>
<text class="c b" x="337" y="1558" font-size="25">k(y)</text>
<text class="c" x="468" y="1582" font-size="25" style="fill:#888">B(x)</text>
<rect x="846" y="1342" width="19" height="245" fill="url(#chg)"/>
<text class="c b" x="905" y="1355" font-size="33">100</text>
<text class="c b" x="908" y="1580" font-size="33">-100</text>
<text class="c b" font-size="27" transform="translate(894 1465) rotate(90)">nC/m²</text>

<svg x="70" y="1645" width="388" height="395" viewBox="70 1645 388 395">
<rect x="70" y="1645" width="388" height="395" fill="#1c2e66"/>
<g filter="url(#b12)" fill="#1a5cb0"><circle cx="264" cy="1761" r="56"/><circle cx="264" cy="1923" r="56"/></g>
<g fill="#1c2e66" stroke="#3ad0e8" stroke-width="3"><ellipse cx="264" cy="1761" rx="41" ry="41"/><ellipse cx="264" cy="1923" rx="41" ry="41"/></g>
<g fill="#1a3a80" filter="url(#b4)"><rect x="195" y="1828" width="138" height="24"/></g>
<circle cx="210" cy="1840" r="15" fill="#1c2e66"/><circle cx="319" cy="1840" r="15" fill="#1c2e66"/>
</svg>
<svg x="508" y="1645" width="389" height="395" viewBox="508 1645 389 395">
<rect x="508" y="1645" width="389" height="395" fill="#1c2e66"/>
<g filter="url(#b12)" fill="#1f70bc"><circle cx="702" cy="1761" r="58"/><circle cx="702" cy="1923" r="58"/></g>
<g filter="url(#b4)" fill="none" stroke="#4cc8b8" stroke-width="14"><path d="M655 1750A48 48 0 0 1 749 1750"/><path d="M655 1934A48 48 0 0 0 749 1934"/></g>
<g fill="#1c2e66"><ellipse cx="702" cy="1761" rx="41" ry="41"/><ellipse cx="702" cy="1923" rx="41" ry="41"/></g>
<g fill="none" stroke-width="5"><path stroke="#e8d028" d="M661 1755A41 41 0 0 1 743 1755"/><path stroke="#e8d028" d="M661 1929A41 41 0 0 0 743 1929"/><path stroke="#d02018" stroke-width="4" d="M675 1730A41 41 0 0 1 729 1730"/><path stroke="#d02018" stroke-width="4" d="M675 1954A41 41 0 0 0 729 1954"/></g>
<g stroke="#2a56a8" stroke-width="5" stroke-dasharray="3 5" fill="none"><path d="M672 1806L648 1830M732 1806L756 1830M672 1878L648 1854M732 1878L756 1854"/></g>
</svg>
<g>
<text x="99" y="1688" font-size="33" class="w">E<tspan font-size="21" dy="7">max</tspan><tspan dy="-7"> = 165</tspan></text>
<text x="528" y="1688" font-size="33" class="w">E<tspan font-size="21" dy="7">max</tspan><tspan dy="-7"> = 394</tspan></text>
<text class="c w" x="112" y="1906" font-size="33">E</text>
<text class="c w" x="552" y="1904" font-size="33">E</text>
<text class="c w" x="153" y="2005" font-size="33">k</text>
<text class="c w" x="594" y="2005" font-size="33">k</text>
<g fill="#fff" stroke="#fff">
<line x1="112" y1="1935" x2="112" y2="1982" stroke-width="5"/><path d="M102 1945h20l-10-24z" stroke="none"/>
<line x1="552" y1="1935" x2="552" y2="1982" stroke-width="5"/><path d="M542 1945h20l-10-24z" stroke="none"/>
<circle cx="112" cy="2001" r="18" stroke="none"/><circle cx="552" cy="2001" r="18" stroke="none"/>
<path d="M103 1992l18 18M121 1992l-18 18M543 1992l18 18M561 1992l-18 18" stroke="#1c2e66" stroke-width="4"/>
<rect x="350" y="2008" width="84" height="12" stroke="none"/><rect x="790" y="2008" width="84" height="12" stroke="none"/>
</g>
<text class="c w" x="392" y="1992" font-size="25">50 nm</text>
<text class="c w" x="832" y="1992" font-size="25">50 nm</text>
</g>
<rect x="914" y="1647" width="21" height="393" fill="url(#jet)"/>
<text class="c" x="971" y="1668" font-size="32">394</text>
<text class="c" x="953" y="2023" font-size="32">0</text>
<text class="c b" font-size="31" transform="translate(969 1833) rotate(90)">(|E|/E₀)²</text>

<!-- C(b) -->
<text class="c lab" x="1033" y="1186">(b)</text>
<line x1="1014" y1="1148" x2="1628" y2="1148" stroke="#bbb" stroke-width="2"/>
<rect x="1095" y="1153" width="508" height="870" fill="none" stroke="#222" stroke-width="4.5"/>
<g fill="none" stroke="#666" stroke-width="2.5" transform="translate(-14 0)">
<path d="M1151 1172L1177 1187V1218L1151 1234L1125 1218V1187Z"/><path d="M1177 1187L1203 1172L1229 1187V1218L1203 1234L1177 1218"/><path d="M1229 1187L1240 1178"/>
</g>
<text x="1226" y="1178" font-size="13" fill="#555">SH</text>
<path d="M1523 1167L1572 1220L1523 1276L1474 1220Z" fill="#eccf3a"/>
<path d="M1474 1220H1572" stroke="#d4b424" stroke-width="2"/>
<use href="#icon-yellow" transform="translate(1526 1372)"/>
<use href="#icon-yellow" transform="translate(1526 1528)"/>
<use href="#icon-yellow" transform="translate(1526 1716)"/>
<use href="#icon-yellow" transform="translate(1526 1913)"/>
<g id="cbChart"></g>
<g stroke="#111" stroke-width="4"><line x1="1167" y1="1654" x2="1167" y2="1766"/><line x1="1155" y1="1654" x2="1179" y2="1654"/><line x1="1155" y1="1766" x2="1179" y2="1766"/></g>
<text x="1189" y="1723" font-size="38" class="b" textLength="134" lengthAdjust="spacingAndGlyphs">200 cts</text>
<text class="c b" font-size="40" transform="translate(1058 1589) rotate(-90)" textLength="285" lengthAdjust="spacingAndGlyphs">Intensity (cts)</text>
<text class="c b" x="1376" y="2112" font-size="43" textLength="400" lengthAdjust="spacing">Raman shift (cm<tspan font-size="28" dy="-14">−1</tspan><tspan dy="14">)</tspan></text>

<!-- D wire frames -->
<text class="big b" x="1750" y="1203">D</text>
<use href="#octa"/>
<use href="#octa" transform="translate(398 0)"/>
<use href="#octa" transform="translate(798 0)"/>
<use href="#octa" transform="translate(1187 0)"/>
<g fill="none">
<path d="M2295 1365H2385V1500H2295Z M2320 1350V1500M2360 1350V1500M2295 1400H2385" stroke="#a89898" stroke-width="14"/>
<path d="M2295 1365H2385V1500H2295Z M2320 1350V1500M2360 1350V1500M2295 1400H2385" stroke="#ece4e4" stroke-width="7"/>
<path d="M2290 1398H2380M2320 1490H2380" stroke="#c8484c" stroke-width="11"/>
<path d="M2295 1420V1450" stroke="#c8484c" stroke-width="7"/>
</g>
<g fill="none">
<path d="M2690 1360L2790 1345M2690 1360V1480M2795 1350V1490M2690 1470L2800 1370M2700 1375L2800 1490" stroke="#a09098" stroke-width="13"/>
<path d="M2690 1360L2790 1345M2690 1360V1480M2795 1350V1490M2690 1470L2800 1370M2700 1375L2800 1490" stroke="#e8e0e4" stroke-width="6"/>
<path d="M2700 1360L2790 1345M2695 1385V1440M2795 1380V1450M2720 1385L2745 1420" stroke="#d0383c" stroke-width="5"/>
<path d="M2715 1385L2745 1425" stroke="#2a48a8" stroke-width="4"/><path d="M2720 1490L2770 1510" stroke="#c8484c" stroke-width="16"/>
</g>
<g fill="none">
<path d="M3060 1395V1470M3090 1375V1490M3115 1385V1480M3165 1385V1480M3190 1375V1490M3210 1395V1470M3080 1365L3140 1335L3195 1370M3060 1460L3135 1510L3210 1460M3080 1385L3195 1475M3190 1385L3080 1475" stroke="#a08c90" stroke-width="12"/>
<path d="M3060 1395V1470M3090 1375V1490M3115 1385V1480M3165 1385V1480M3190 1375V1490M3210 1395V1470M3080 1365L3140 1335L3195 1370M3060 1460L3135 1510L3210 1460M3080 1385L3195 1475M3190 1385L3080 1475" stroke="#e6dcdc" stroke-width="6"/>
<path d="M3090 1400V1450M3115 1400V1460M3165 1400V1450M3120 1400L3160 1440" stroke="#d0383c" stroke-width="4"/>
</g>
<use href="#emleg"/>
<use href="#emleg" transform="translate(398 0)"/>
<use href="#emleg" transform="translate(814 3)"/>
<use href="#emleg" transform="translate(1214 8)"/>
<rect x="3323" y="1265" width="13" height="373" fill="url(#chg)"/>
<g>
<text class="c" x="3368" y="1305" font-size="30">0.8</text>
<text class="c" x="3368" y="1375" font-size="30">0.4</text>
<text class="c" x="3360" y="1449" font-size="30">0</text>
<text class="c" x="3366" y="1519" font-size="30">-0.4</text>
<text class="c" x="3366" y="1587" font-size="30">-0.8</text>
</g>
<text class="c" x="3385" y="1234" font-size="36">×10</text>
<text class="c" font-size="38" transform="translate(3447 1406) rotate(-90)" textLength="545" lengthAdjust="spacingAndGlyphs">Surface charge density(arb.u)</text>

<!-- D heat maps -->
<svg x="1780" y="1691" width="351" height="355" viewBox="-171 -175 351 355">
<rect x="-171" y="-175" width="351" height="355" fill="#1f2a62"/>
<ellipse rx="72" ry="120" fill="#30206e" filter="url(#b12)"/>
<ellipse cy="-58" rx="40" ry="34" fill="#a02090" opacity=".75" filter="url(#b12)"/><ellipse cy="58" rx="40" ry="34" fill="#a02090" opacity=".75" filter="url(#b12)"/>
<ellipse cy="-102" rx="20" ry="26" fill="#e0281c" filter="url(#b4)"/><ellipse cy="102" rx="20" ry="26" fill="#e0281c" filter="url(#b4)"/>
<g fill="#f8e050"><circle cx="-12" cy="-87" r="4"/><circle cx="12" cy="-87" r="4"/><circle cx="-12" cy="87" r="4"/><circle cx="12" cy="87" r="4"/><ellipse cy="-120" rx="10" ry="3"/><ellipse cy="120" rx="10" ry="3"/></g>
<ellipse cy="-102" rx="14" ry="17" fill="#141c3a"/><ellipse cy="102" rx="14" ry="17" fill="#141c3a"/>
<ellipse cx="-74" rx="5" ry="18" fill="#b02040" filter="url(#b2)"/><ellipse cx="76" rx="5" ry="18" fill="#b02040" filter="url(#b2)"/>
<path d="M-86 0l12-12l12 12l-12 12z M64 0l12-12l12 12l-12 12z" fill="#080810"/>
</svg>
<svg x="2175" y="1691" width="353" height="355" viewBox="-168 -175 353 355">
<rect x="-168" y="-175" width="353" height="355" fill="#1f2a62"/>
<ellipse rx="78" ry="120" fill="#3a2078" filter="url(#b12)"/>
<ellipse cy="-50" rx="42" ry="34" fill="#8c1f90" filter="url(#b12)"/><ellipse cy="50" rx="42" ry="34" fill="#8c1f90" filter="url(#b12)"/>
<ellipse rx="46" ry="36" fill="#d8207c" filter="url(#b7)"/>
<ellipse cy="-102" rx="20" ry="26" fill="#e0281c" filter="url(#b4)"/><ellipse cy="102" rx="20" ry="26" fill="#e0281c" filter="url(#b4)"/>
<ellipse cy="-102" rx="13" ry="16" fill="#141c3a"/><ellipse cy="102" rx="13" ry="16" fill="#141c3a"/>
<g fill="#141c3a" stroke="#f0a020" stroke-width="4"><rect x="-44" y="-36" width="20" height="72" rx="10"/><rect x="28" y="-36" width="20" height="72" rx="10"/></g>
<path d="M-84 0l11-11l11 11l-11 11z M68 0l11-11l11 11l-11 11z" fill="#080810"/>
</svg>
<svg x="2563" y="1691" width="354" height="355" viewBox="-178 -175 354 355">
<rect x="-178" y="-175" width="354" height="355" fill="#1f2a62"/>
<ellipse rx="66" ry="125" fill="#5a1f8c" filter="url(#b12)"/>
<ellipse rx="45" ry="90" fill="#d81f48" filter="url(#b7)"/>
<ellipse rx="44" ry="48" fill="#f59a18" filter="url(#b7)"/>
<ellipse rx="20" ry="30" fill="#fff28a" filter="url(#b4)"/>
<ellipse cy="-122" rx="15" ry="26" fill="#e8341c" filter="url(#b4)"/><ellipse cy="122" rx="15" ry="26" fill="#e8341c" filter="url(#b4)"/>
<g fill="#1c2850"><ellipse cy="-122" rx="11" ry="14"/><ellipse cy="122" rx="11" ry="14"/><circle cx="-22" cy="-67" r="8"/><circle cx="22" cy="-67" r="8"/><circle cx="-22" cy="67" r="8"/><circle cx="22" cy="67" r="8"/><circle cx="-26" cy="-34" r="8"/><circle cx="26" cy="-34" r="8"/><circle cx="-26" cy="34" r="8"/><circle cx="26" cy="34" r="8"/></g>
<g fill="#202a50" stroke="#f09020" stroke-width="3"><rect x="-33" y="-28" width="13" height="56" rx="6"/><rect x="21" y="-28" width="13" height="56" rx="6"/></g>
<g fill="#08080c"><circle cx="-88" r="9"/><circle cx="-70" r="9"/><circle cx="67" r="9"/><circle cx="85" r="9"/></g>
</svg>
<svg x="2956" y="1691" width="350" height="355" viewBox="-178 -175 350 355">
<rect x="-178" y="-175" width="350" height="355" fill="#1f2a62"/>
<ellipse rx="70" ry="130" fill="#6a1f8c" filter="url(#b12)"/>
<ellipse rx="55" ry="100" fill="#d81f48" filter="url(#b7)"/>
<ellipse rx="68" ry="40" fill="#f09018" filter="url(#b7)"/>
<ellipse rx="45" ry="30" fill="#fff080" filter="url(#b4)"/>
<ellipse cy="-108" rx="24" ry="34" fill="#e0301c" filter="url(#b4)"/><ellipse cy="108" rx="24" ry="34" fill="#e0301c" filter="url(#b4)"/>
<g fill="#fff4a0" filter="url(#b2)"><circle cx="-15" cy="-92" r="6"/><circle cx="15" cy="-92" r="6"/><circle cx="-15" cy="92" r="6"/><circle cx="15" cy="92" r="6"/></g>
<g fill="#1c2850"><ellipse cy="-112" rx="15" ry="20"/><ellipse cy="112" rx="15" ry="20"/><circle cx="-31" cy="-46" r="8"/><circle cx="31" cy="-46" r="8"/><circle cx="-26" cy="-25" r="9"/><circle cx="26" cy="-25" r="9"/><circle cx="-26" cy="23" r="9"/><circle cx="26" cy="23" r="9"/><circle cx="-31" cy="43" r="8"/><circle cx="31" cy="43" r="8"/></g>
<g fill="#08080c"><circle cx="-81" r="11"/><circle cx="81" r="11"/></g>
</svg>
<g>
<g id="dind" fill="#fff" stroke="#fff">
<line x1="1830" y1="1965" x2="1830" y2="2005" stroke-width="3"/><path d="M1825 1968h10l-5-14z" stroke="none"/><line x1="1830" y1="2002" x2="1862" y2="2002" stroke-width="3"/><path d="M1860 1997l12 5l-12 5z" stroke="none"/><circle cx="1830" cy="2002" r="9" fill="#1f2a62" stroke-width="3"/>
<line x1="2106" y1="1975" x2="2106" y2="2020" stroke-width="3"/><path d="M2101 1978h10l-5-14z" stroke="none"/><circle cx="2106" cy="2023" r="11" fill="none" stroke-width="3"/><circle cx="2106" cy="2023" r="5" stroke="none"/>
<text class="c w" x="1806" y="1977" font-size="24" stroke="none" font-weight="bold">Z</text>
<text class="c w" x="1806" y="2018" font-size="24" stroke="none" font-weight="bold">X</text>
<text class="c w" x="1853" y="2018" font-size="24" stroke="none" font-weight="bold">Y</text>
<text class="c w" x="2078" y="1963" font-size="24" stroke="none" font-weight="bold">E<tspan font-size="15" dy="5">0</tspan></text>
<text class="c w" x="2064" y="2015" font-size="24" stroke="none" font-weight="bold">k</text>
</g>
<use href="#dind" transform="translate(393 0)"/>
<use href="#dind" transform="translate(781 0)"/>
<use href="#dind" transform="translate(1170 0)"/>
</g>
<g>
<text class="c" x="1740" y="1716" font-size="33" textLength="38" lengthAdjust="spacingAndGlyphs">120</text>
<text class="c" x="1746" y="1763" font-size="33">80</text>
<text class="c" x="1746" y="1809" font-size="33">40</text>
<text class="c" x="1748" y="1864" font-size="33">0</text>
<text class="c" x="1736" y="1913" font-size="33">−40</text>
<text class="c" x="1736" y="1961" font-size="33">– 80</text>
<text class="c" x="1732" y="2014" font-size="33" textLength="64" lengthAdjust="spacingAndGlyphs">−120</text>
<text class="c" font-size="44" transform="translate(1696 1827) rotate(-90)" textLength="232" lengthAdjust="spacingAndGlyphs">Position(nm)</text>
</g>
<g font-size="33">
<text class="c" x="1820" y="2075" textLength="58" lengthAdjust="spacingAndGlyphs" font-size="33">−100</text><text class="c" x="1884" y="2075" font-size="33" textLength="44" lengthAdjust="spacingAndGlyphs">−50</text><text class="c" x="1951" y="2075" font-size="33">0</text><text class="c" x="2015" y="2075" font-size="33">50</text><text class="c" x="2077" y="2075" font-size="33">100</text>
<text class="c" x="2212" y="2075" textLength="58" lengthAdjust="spacingAndGlyphs" font-size="33">−100</text><text class="c" x="2276" y="2075" font-size="33" textLength="44" lengthAdjust="spacingAndGlyphs">−50</text><text class="c" x="2343" y="2075" font-size="33">0</text><text class="c" x="2407" y="2075" font-size="33">50</text><text class="c" x="2469" y="2075" font-size="33">100</text>
<text class="c" x="2610" y="2075" textLength="58" lengthAdjust="spacingAndGlyphs" font-size="33">−100</text><text class="c" x="2674" y="2075" font-size="33" textLength="44" lengthAdjust="spacingAndGlyphs">−50</text><text class="c" x="2741" y="2075" font-size="33">0</text><text class="c" x="2805" y="2075" font-size="33">50</text><text class="c" x="2867" y="2075" font-size="33">100</text>
<text class="c" x="3003" y="2075" textLength="58" lengthAdjust="spacingAndGlyphs" font-size="33">−100</text><text class="c" x="3067" y="2075" font-size="33" textLength="44" lengthAdjust="spacingAndGlyphs">−50</text><text class="c" x="3134" y="2075" font-size="33">0</text><text class="c" x="3198" y="2075" font-size="33">50</text><text class="c" x="3260" y="2075" font-size="33">100</text>
<text class="c" x="1959" y="2112" font-size="34">Position (nm)</text>
<text class="c" x="2361" y="2116" font-size="34">Position (nm)</text>
<text class="c" x="2753" y="2112" font-size="34">Position (nm)</text>
<text class="c" x="3154" y="2112" font-size="34">Position (nm)</text>
</g>
<rect x="3328" y="1696" width="14" height="350" fill="url(#hot)" stroke="#888" stroke-width="1"/>
<g>
<text class="c" x="3354" y="1697" font-size="30">5</text>
<text class="c" x="3354" y="1765" font-size="30">4</text>
<text class="c" x="3354" y="1829" font-size="30">3</text>
<text class="c" x="3354" y="1901" font-size="30">2</text>
<text class="c" x="3354" y="1966" font-size="30">1</text>
<text class="c" x="3354" y="2030" font-size="30">0</text>
</g>
<text class="c b" font-size="38" font-style="italic" transform="translate(3432 2071) rotate(-90)">/E|/E₀</text>
</svg>

<script>
/* ---------- A(b) spectra: counts, 1000–1800 cm-1 every 10 ---------- */
const abStart = 1000;
const abStep = 10;
const abTicks = [1000, 1200, 1400, 1600, 1800];
const abOffsets = [790, 502, 267, 70];
const abNames = ['black', 'red', 'gray', 'light-gray'];
const abColors = ['#111111', '#e8141c', '#8e8e8e', '#c6c6c6'];
const abBlack = [0,4,-2,3,1,8,30,72,22,4,-3,2,-4,3,0,-2,3,-3,1,4,-2,2,-3,5,2,6,3,9,4,7,3,6,2,8,5,10,14,48,115,30,8,4,16,8,20,40,16,6,2,-1,3,-2,4,1,6,4,10,7,18,9,12,30,62,20,6,-4,-2,-6,-3,-8,-4,-9,-5,-8,-10,-6,-11,-8,-12,-9,-12];
const abRed = [0,6,20,-8,10,30,120,206,110,10,-14,-22,-6,-18,-2,-16,0,-20,-6,-14,2,-12,8,-8,4,-4,14,-6,12,0,8,-6,10,2,14,30,80,160,260,120,14,-6,-30,-10,-4,89,40,0,-22,-12,-30,-18,-34,-22,-36,-18,-6,4,27,6,-16,50,158,70,-4,-30,-24,-44,-30,-52,-42,-60,-50,-70,-58,-72,-62,-76,-64,-80,-75];
const abGray = [0,-3,2,-2,1,-3,2,-1,3,0,2,-2,3,0,4,1,3,-1,4,2,5,2,6,3,4,7,5,3,6,4,8,5,7,6,9,7,10,14,22,10,9,6,11,8,10,7,12,9,13,10,14,11,13,10,15,12,16,13,18,15,17,20,26,18,15,17,14,18,15,19,16,18,15,19,17,20,16,19,17,20,18];
const abLight = [0,-3,-1,2,-4,0,3,-2,-3,1,-2,0,3,-3,1,-2,2,5,1,-1,6,3,8,5,9,6,11,7,10,8,12,9,11,8,13,10,14,12,16,12,13,10,15,12,14,11,16,13,15,12,17,14,18,15,19,16,20,17,21,18,22,19,23,20,24,21,25,22,24,21,26,23,27,24,28,25,27,24,28,25,27];

/* ---------- A(c) waterfall: relative peak profile, 1000–1860 cm-1 every 10 ---------- */
const acStart = 1000;
const acStep = 10;
const acXTicks = [1000, 1200, 1400, 1600, 1800];
const acIntensityTicks = [840, 700, 560, 420, 280];
const acParticleTicks = [5, 10, 15, 20, 25, 30, 35, 40];
const acTemplate = [0,.01,.02,.03,.05,.15,.45,1,.55,.18,.08,.05,.04,.03,.03,.02,.03,.03,.04,.03,.04,.05,.04,.05,.06,.05,.06,.07,.06,.07,.08,.07,.08,.09,.1,.12,.22,.6,1.1,.55,.2,.12,.1,.16,.3,.55,.4,.18,.1,.08,.06,.07,.06,.08,.07,.09,.1,.12,.2,.24,.15,.32,.72,.45,.14,.07,.05,.05,.04,.05,.04,.04,.03,.04,.03,.03,.03,.02,.03,.02,.03,.02,.02,.02,.02,.01,.01];
const acAmps = [.55,.85,.8,.8,.75,.8,.7,.8,.78,.85,.9,.85,.95,.8,.9,1,.85,.95,1.05,1.1,1,1.15,1.2,1.1,1,1.05,.9,.85,.7,.6,.5,.45,.4,.42,.3,.35,.28,.25,.2,.15];
const acNoise = [3,-5,6,-2,5,-7,2,7,-4,4,-8,3,-1,6,-5,2,-3,8,-6,3,4,-5];

/* ---------- B(b) spectra: kilo-counts, 400–1800 cm-1 every 20 ---------- */
const bbStart = 400;
const bbStep = 20;
const bbTicks = [600, 1000, 1400, 1800];
const bbOffsets = [21.9, 14.2, 7.2, 1.8];
const bbNames = ['navy', 'green', 'red', 'dark'];
const bbColors = ['#1f2f80', '#107048', '#d8143c', '#2a1410'];
const bbNavy = [.3,.05,0,.1,-.05,.05,-.1,0,.05,-.05,3.1,.3,.05,-.05,0,.1,-.05,.1,.7,1.8,.3,.05,-.05,0,.05,-.05,.1,.25,.1,-.05,.05,0,.15,.3,.25,.35,.25,.4,.7,1.2,.5,.1,.15,.1,.5,1,1.5,.7,2.5,.7,.1,.05,.15,.05,.6,2,.6,.4,1,1.5,.4,.05,.8,2,.3,.05,-.05,.1,-.05,.05,0];
const bbGreen = [.6,.1,-.1,0,.1,.3,.05,.2,0,.1,4.5,.3,.05,0,.05,-.05,.1,0,.8,2.1,.3,.1,0,.05,-.05,.1,.2,.3,.15,.05,.1,.2,.15,.3,.25,.35,.3,.2,.6,1.3,.6,.1,.2,.1,.6,1,1.4,.7,3,.8,.1,.05,.1,0,.5,1.9,.7,.4,.9,1.4,.5,.05,.9,2.3,.3,.05,.1,0,.05,-.05,0];
const bbRed = [.1,0,.05,-.05,0,.05,.1,0,.05,.05,2.4,.2,.05,0,.05,0,.1,0,.6,1.3,.2,.05,0,.05,.1,.05,.1,.3,.15,.05,.2,.4,.6,.9,.7,.6,.4,.3,.5,.9,.4,.1,.2,.15,.5,.9,1.1,.5,2,.6,.1,.05,.1,.05,.4,1.3,.7,.5,1,1.4,.7,.3,.7,1.4,.4,0,.1,-.05,.1,0,.05];
const bbDark = [0,.05,-.05,0,.05,0,-.05,.05,0,.05,.35,.05,0,-.05,.05,0,.05,-.05,.1,.2,.05,0,.05,-.05,0,.05,.05,0,.1,.05,.1,.05,.15,.1,.2,.1,.05,.1,0,.1,.05,0,.05,.05,.1,.15,.2,.1,.3,.1,0,.05,0,.05,.05,.15,.05,0,.1,.1,.05,0,.1,.2,.05,0,.05,-.05,.05,0,.05];

/* ---------- B(c) bars ---------- */
const bcCategories = ['CPO-0.5', 'CPO-20', 'CPO-40', 'CPO-60'];
const bcValues = [0.41, 0.65, 2.2, 1.0];
const bcErrors = [0.11, 0.15, 0.46, 0.27];
const bcColors = ['#000000', '#a0a0a5', '#808080', '#d4d6d5'];
const bcTicks = [0, 1, 2, 3];

/* ---------- C(b) spectra: counts, 1000–1800 cm-1 every 10 ---------- */
const cbStart = 1000;
const cbStep = 10;
const cbTicks = [1000, 1200, 1400, 1600, 1800];
const cbTickLabels = ['1000', '1200', '1400', '1600', '180'];
const cbOffsets = [1298, 1027, 750, 314, 55];
const cbNames = ['black', 'gray', 'green', 'red', 'blue'];
const cbColors = ['#111111', '#808080', '#107838', '#e8141c', '#1f42a8'];
const cbBlack = [-30,-50,-68,-60,10,30,55,12,-10,18,-5,30,5,-15,12,-10,8,-18,10,-8,14,-12,5,-14,20,-6,10,-16,-2,-22,-4,-15,10,-8,-12,8,15,40,58,30,8,-10,-18,-32,-15,-28,-10,-20,-5,-25,-8,-18,-2,-22,-5,-14,5,-12,8,-8,5,-14,12,-6,20,30,15,-4,-18,-10,-22,-8,-16,-4,-25,-10,-18,-6,-35,-12,5];
const cbGray = [-20,20,40,10,55,70,92,60,-10,-30,-40,-5,-35,5,-25,-5,-30,0,-20,-32,-5,-28,0,-15,5,-18,-2,-25,2,-12,-8,5,-15,8,-10,-2,12,-5,60,30,-10,-25,-5,15,0,25,35,18,-5,-25,-10,-30,0,-20,10,-18,-5,-28,5,-15,-30,0,-12,10,-22,-5,-15,15,-25,-2,12,-15,8,-18,15,-5,-12,5,-20,0,-10];
const cbGreen = [10,-30,25,-20,35,15,68,30,10,-20,-30,-15,-40,-10,-35,-45,-20,-50,-25,-35,-15,-30,-8,-25,-5,-18,5,-22,0,-12,8,-10,15,-5,20,0,-12,12,-2,28,5,-8,15,-12,5,22,0,18,-5,10,15,-2,20,5,-5,18,0,12,-8,8,14,-5,10,-12,5,-15,-5,-18,-2,-15,-22,-8,-25,-10,-20,-28,-12,-22,-5,-15,-8];
const cbRed = [-20,-50,-10,30,80,220,363,330,120,-15,-30,10,-20,30,60,15,-10,25,-15,20,-5,15,-20,5,-25,-5,-30,-10,5,-35,-5,15,-20,10,5,20,0,15,227,180,40,-25,-5,10,30,45,129,105,40,-20,10,-25,5,-15,15,-30,0,-12,10,-5,25,15,55,86,40,60,117,30,-5,-25,5,-20,10,-30,-10,-25,-35,-20,-40,-25,-5];
const cbBlue = [-35,30,70,40,55,75,92,50,15,-20,-35,-10,-40,-15,-30,-8,-25,-35,-12,-28,-15,-30,-20,-38,-22,-30,-18,-35,-10,-25,-5,-18,5,-10,15,-2,15,8,55,25,15,5,30,12,25,20,35,10,25,15,5,22,0,18,-5,12,-10,8,-12,5,15,-5,20,5,25,10,45,15,-5,10,-10,5,20,-8,12,0,-12,5,-15,0,-5];

/* ---------- drawing helpers ---------- */
const SVGNS = 'http://www.w3.org/2000/svg';
function mk(tag, parent, attrs) {
  const e = document.createElementNS(SVGNS, tag);
  for (const k in attrs) e.setAttribute(k, attrs[k]);
  parent.appendChild(e);
  return e;
}
function linePoints(values, offset, start, step, xFn, yFn) {
  return values.map((v, i) => xFn(start + i * step).toFixed(1) + ',' + yFn(v + offset).toFixed(1)).join(' ');
}

/* A(b) */
const abX = v => 166 + (v - 1000) * 431 / 800;
const abY = c => 989 - c * 0.52;
const abGroup = document.getElementById('abChart');
[abBlack, abRed, abGray, abLight].forEach((series, s) => {
  const line = mk('polyline', abGroup, {points: linePoints(series, abOffsets[s], abStart, abStep, abX, abY), fill: 'none', stroke: abColors[s], 'stroke-width': 3.5, 'stroke-linejoin': 'round'});
  
  
});
abTicks.forEach(t => {
  const mark = mk('line', abGroup, {x1: abX(t), x2: abX(t), y1: 989, y2: 998, stroke: '#222', 'stroke-width': 3});
  
  
  const label = mk('text', abGroup, {class: 'c', x: abX(t), y: 1012, 'font-size': 29});
  label.textContent = t;
  
  
});

/* A(c) */
const acFrontX = 669;
const acFrontY = 948;
const acSpecX = v => (v - 1000) * 0.70;
const acTickX = v => 669 + (v - 1000) * 0.667;
const acHeight = h => h * 170;
const acTilt = dx => dx * 0.03;
const acShiftX = p => (39 - p) * 4.9;
const acShiftY = p => (39 - p) * -5.8;
const acGroup = document.getElementById('acChart');
acAmps.forEach((amp, p) => {
  const pts = acTemplate.map((h, i) => {
    const dx = acSpecX(acStart + i * acStep);
    const x = acFrontX + dx + acShiftX(p);
    const y = acFrontY + acShiftY(p) + acTilt(dx) - acHeight(h * amp) + acNoise[(i + p * 3) % acNoise.length];
    return x.toFixed(1) + ',' + y.toFixed(1);
  });
  const endDx = acSpecX(acStart + (acTemplate.length - 1) * acStep);
  const xEnd = acFrontX + endDx + acShiftX(p);
  const xBeg = acFrontX + acShiftX(p);
  const base = acFrontY + acShiftY(p) + 9;
  const shape = mk('polygon', acGroup, {points: xBeg + ',' + base + ' ' + pts.join(' ') + ' ' + xEnd + ',' + (base + acTilt(endDx)), fill: '#fff', stroke: 'none'});
  
  
  const line = mk('polyline', acGroup, {points: pts.join(' '), fill: 'none', stroke: '#111', 'stroke-width': 2.6});
  
  
});
acXTicks.forEach(t => {
  const mark = mk('line', acGroup, {x1: acTickX(t), x2: acTickX(t), y1: 989, y2: 996, stroke: '#222', 'stroke-width': 3});
  
  
  const label = mk('text', acGroup, {class: 'c', x: acTickX(t), y: 1012, 'font-size': 29, style: 'fill:#333'});
  label.textContent = t;
  
  
});
acIntensityTicks.forEach(t => {
  const label = mk('text', acGroup, {class: 'c', x: 1497, y: 544 + (840 - t) / 140 * 52.5, 'font-size': 28});
  label.textContent = t;
  
  
});
acParticleTicks.forEach(t => {
  const label = mk('text', acGroup, {class: 'c', x: 1451 - (t - 5) * 5.1, y: 789 + (t - 5) * 5.7, 'font-size': 19, 'font-style': 'italic', transform: 'rotate(-55 ' + (1451 - (t - 5) * 5.1) + ' ' + (789 + (t - 5) * 5.7) + ')'});
  label.textContent = t;
  
  
});

/* B(b) */
const bbX = v => 1912 + (v - 400) * 500 / 1400;
const bbY = k => 962 - k * 16.5;
const bbGroup = document.getElementById('bbChart');
[bbNavy, bbGreen, bbRed, bbDark].forEach((series, s) => {
  const line = mk('polyline', bbGroup, {points: linePoints(series, bbOffsets[s], bbStart, bbStep, bbX, bbY), fill: 'none', stroke: bbColors[s], 'stroke-width': 3.5, 'stroke-linejoin': 'round'});
  
  
});
bbTicks.forEach(t => {
  const mark = mk('line', bbGroup, {x1: bbX(t), x2: bbX(t), y1: 962, y2: 972, stroke: '#222', 'stroke-width': 3});
  
  
  const label = mk('text', bbGroup, {class: 'c', x: bbX(t), y: 1002, 'font-size': 37});
  label.textContent = t;
  
  
});

/* B(c) */
const bcBandCenter = i => 2732 + i * 122.2;
const bcY = v => 960 - v * 133.3;
const bcGroup = document.getElementById('bcChart');
const bcFrame = mk('path', bcGroup, {d: 'M2665 960V473H3164V960', fill: 'none', stroke: '#111', 'stroke-width': 3});


const bcBase = mk('line', bcGroup, {x1: 2655, x2: 3164, y1: 960, y2: 960, stroke: '#111', 'stroke-width': 4});


bcValues.forEach((v, i) => {
  const cx = bcBandCenter(i);
  const err = mk('path', bcGroup, {d: 'M' + cx + ' ' + bcY(v) + 'V' + bcY(v + bcErrors[i]) + 'M' + (cx - 14) + ' ' + bcY(v + bcErrors[i]) + 'H' + (cx + 14), fill: 'none', stroke: '#111', 'stroke-width': 4});
  
  
  const bar = mk('rect', bcGroup, {x: cx - 29, y: bcY(v), width: 58, height: 960 - bcY(v), fill: bcColors[i], stroke: '#111', 'stroke-width': 3.5});
  
  
  const mark = mk('line', bcGroup, {x1: cx, x2: cx, y1: 960, y2: 972, stroke: '#111', 'stroke-width': 3});
  
  
  const lx = cx - 23;
  const label = mk('text', bcGroup, {class: 'c', x: lx, y: 1037, 'font-size': 40, 'font-style': 'italic', transform: 'rotate(-36 ' + lx + ' 1037)'});
  label.textContent = bcCategories[i];
  
  
});
bcTicks.forEach(t => {
  const mark = mk('line', bcGroup, {x1: 2653, x2: 2665, y1: bcY(t), y2: bcY(t), stroke: '#111', 'stroke-width': 3});
  
  
  const label = mk('text', bcGroup, {class: 'c', x: 2627, y: bcY(t), 'font-size': 39});
  label.textContent = t;
  
  
});

/* C(b) */
const cbX = v => 1095 + (v - 1000) * 508 / 800;
const cbY = c => 2023 - c * 0.56;
const cbGroup = document.getElementById('cbChart');
[cbBlack, cbGray, cbGreen, cbRed, cbBlue].forEach((series, s) => {
  const line = mk('polyline', cbGroup, {points: linePoints(series, cbOffsets[s], cbStart, cbStep, cbX, cbY), fill: 'none', stroke: cbColors[s], 'stroke-width': 3.5, 'stroke-linejoin': 'round'});
  
  
});
cbTicks.forEach((t, i) => {
  const mark = mk('line', cbGroup, {x1: cbX(t), x2: cbX(t), y1: 2023, y2: 2036, stroke: '#222', 'stroke-width': 3.5});
  
  
  const label = mk('text', cbGroup, {class: i === 4 ? '' : 'c', x: i === 4 ? cbX(t) - 30 : cbX(t), y: i === 4 ? 2082 : 2069, 'font-size': 37});
  label.textContent = cbTickLabels[i];
  
  
});
</script>
</body>
</html>
